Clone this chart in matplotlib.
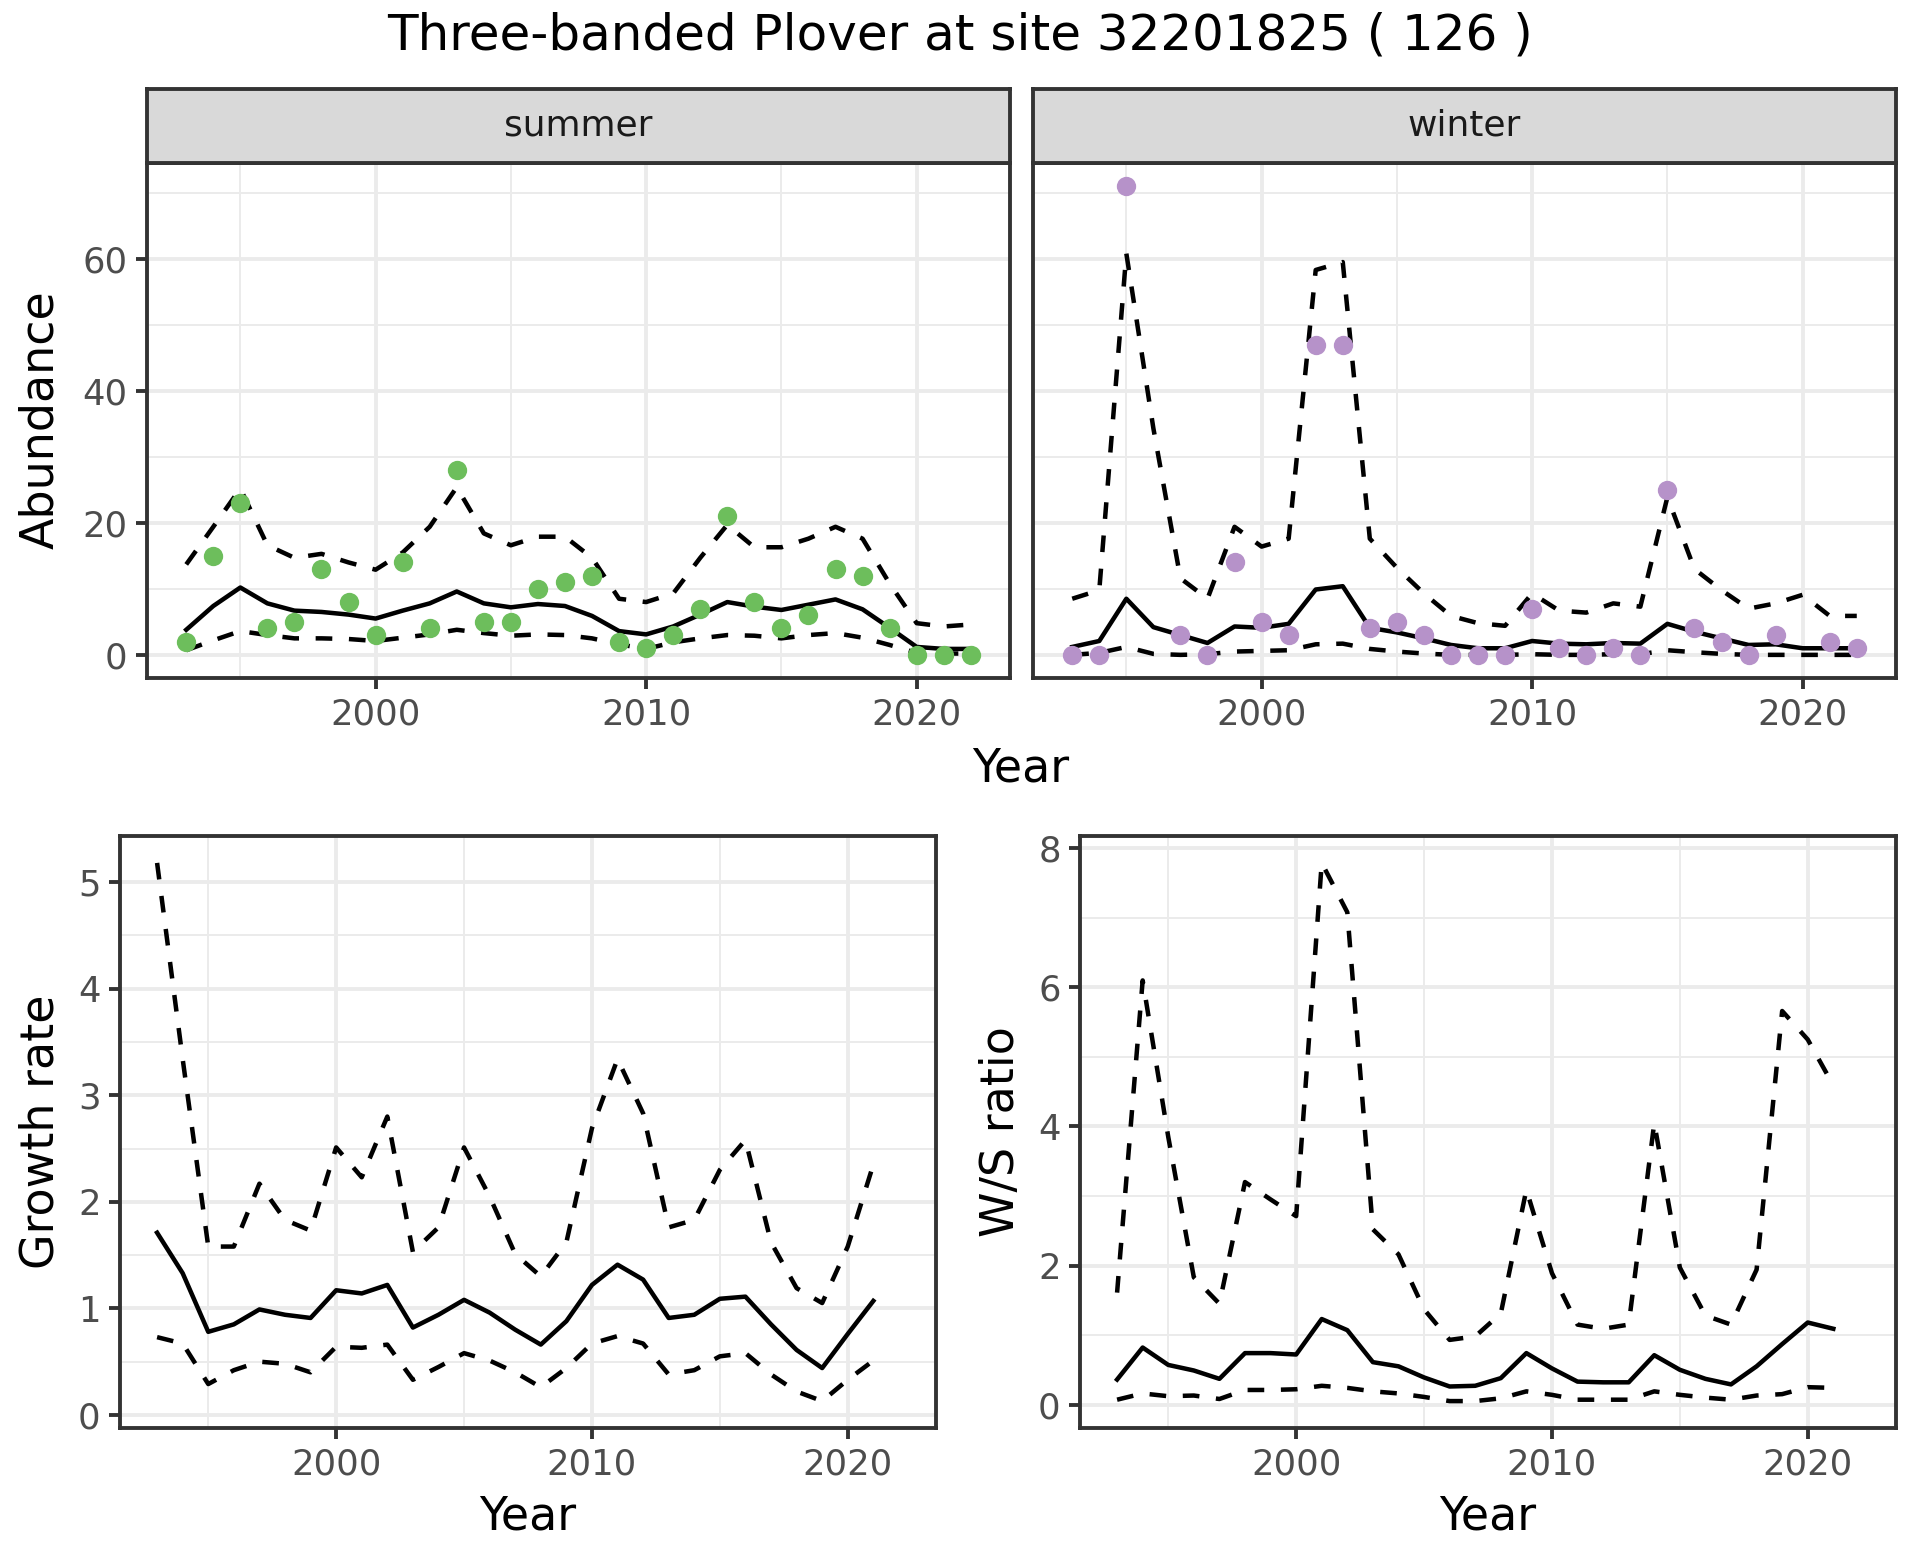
#!/usr/bin/env python3
"""
Three-banded Plover abundance, growth rate and W/S ratio panels.
Writes out.png (1920x1560).
"""

import numpy as np
import matplotlib
matplotlib.use("Agg")
import matplotlib.pyplot as plt
from matplotlib.ticker import MultipleLocator


# -----------------------------
# Data
# -----------------------------
years = list(range(1993, 2023))
years_rate = list(range(1993, 2022))

summer_count = [2, 15, 23, 4, 5, 13, 8, 3, 14, 4, 28, 5, 5, 10, 11, 12, 2, 1, 3, 7,
                21, 8, 4, 6, 13, 12, 4, 0, 0, 0]
summer_mean = [3.8, 7.4, 10.2, 7.8, 6.7, 6.5, 6.1, 5.5, 6.7, 7.8, 9.6, 7.8, 7.2, 7.7,
               7.4, 5.9, 3.6, 3.1, 4.3, 6.1, 8.0, 7.3, 6.8, 7.6, 8.4, 6.9, 4.1, 1.2,
               0.9, 0.9]
summer_hi = [13.7, 19.4, 25.2, 16.6, 14.7, 15.3, 14.0, 12.9, 15.5, 19.4, 25.4, 18.4,
             16.6, 17.9, 17.9, 14.7, 8.5, 8.0, 9.3, 14.7, 19.7, 16.3, 16.3, 17.6, 19.4,
             17.6, 10.8, 4.8, 4.3, 4.6]
summer_lo = [0.7, 2.2, 3.6, 3.0, 2.5, 2.5, 2.4, 2.1, 2.6, 3.1, 3.8, 3.3, 2.9, 3.1, 3.0,
             2.5, 1.6, 0.9, 1.9, 2.5, 3.0, 2.9, 2.5, 3.0, 3.3, 2.6, 1.5, 0.3, 0.2, 0.2]

nan = np.nan
winter_count = [0, 0, 71, nan, 3, 0, 14, 5, 3, 47, 47, 4, 5, 3, 0, 0, 0, 7, 1, 0, 1, 0,
                25, 4, 2, 0, 3, nan, 2, 1]
winter_mean = [1.2, 2.1, 8.5, 4.2, 3.0, 1.8, 4.3, 4.1, 4.7, 9.9, 10.4, 4.1, 3.4, 2.5,
               1.5, 1.0, 1.0, 2.1, 1.7, 1.6, 1.8, 1.7, 4.7, 3.5, 2.5, 1.5, 1.6, 1.0,
               1.0, 1.0]
winter_hi = [8.5, 9.8, 60.8, 34.3, 11.6, 8.5, 19.4, 16.4, 17.6, 58.3, 59.5, 17.6, 13.2,
             9.3, 5.9, 4.8, 4.4, 9.3, 6.7, 6.4, 7.8, 7.3, 23.9, 13.0, 9.8, 7.0, 7.8,
             9.1, 5.9, 5.9]
winter_lo = [0.0, 0.3, 1.2, 0.15, 0.0, 0.1, 0.5, 0.6, 0.7, 1.6, 1.7, 0.9, 0.5, 0.2, 0.0,
             0.0, 0.0, 0.1, 0.0, 0.0, 0.1, 0.1, 0.7, 0.4, 0.15, 0.0, 0.0, 0.0, 0.0, 0.0]

growth_mean = [1.71, 1.33, 0.78, 0.85, 0.99, 0.94, 0.91, 1.17, 1.14, 1.22, 0.82, 0.94,
               1.08, 0.96, 0.80, 0.66, 0.88, 1.22, 1.41, 1.27, 0.91, 0.94, 1.09, 1.11,
               0.85, 0.61, 0.44, 0.76, 1.07]
growth_hi = [5.18, 3.34, 1.58, 1.58, 2.17, 1.83, 1.73, 2.51, 2.23, 2.80, 1.53, 1.76,
             2.51, 2.05, 1.51, 1.30, 1.62, 2.69, 3.34, 2.83, 1.76, 1.83, 2.30, 2.58,
             1.62, 1.19, 1.05, 1.58, 2.35]
growth_lo = [0.73, 0.67, 0.29, 0.42, 0.50, 0.48, 0.40, 0.64, 0.63, 0.66, 0.33, 0.45,
             0.58, 0.51, 0.40, 0.26, 0.44, 0.67, 0.74, 0.67, 0.38, 0.42, 0.55, 0.58,
             0.38, 0.22, 0.13, 0.33, 0.51]

ratio_mean = [0.36, 0.82, 0.57, 0.49, 0.37, 0.74, 0.74, 0.72, 1.23, 1.07, 0.61, 0.55,
              0.39, 0.26, 0.27, 0.38, 0.74, 0.52, 0.33, 0.32, 0.32, 0.71, 0.50, 0.37,
              0.29, 0.55, 0.87, 1.18, 1.09]
ratio_hi = [1.61, 6.10, 3.85, 1.83, 1.45, 3.20, 2.95, 2.71, 7.79, 7.08, 2.52, 2.16,
            1.37, 0.93, 0.98, 1.31, 3.09, 1.89, 1.15, 1.09, 1.15, 4.05, 1.97, 1.28,
            1.15, 1.94, 5.66, 5.25, 4.59]
ratio_lo = [0.07, 0.16, 0.12, 0.13, 0.08, 0.21, 0.21, 0.22, 0.27, 0.24, 0.19, 0.16,
            0.11, 0.05, 0.05, 0.09, 0.19, 0.14, 0.07, 0.07, 0.07, 0.19, 0.14, 0.10,
            0.07, 0.13, 0.15, 0.25, 0.24]

title = "Three-banded Plover at site 32201825 ( 126 )"
seasons = ["summer", "winter"]
season_colors = {"summer": "#6dbe5c", "winter": "#b692c9"}


# -----------------------------
# Look
# -----------------------------
W, H, DPI = 1920, 1560, 240
GRID = "#ebebeb"
DARK = "#333333"
TICKCOL = "#4d4d4d"
LW_GRID = 1.16
LW_LINE = 1.35
DASH = (0, (3.7, 3.7))
TICK_FS = 10.6
STRIP_FS = 10.8
LAB_FS = 13.8
TITLE_FS = 15

plt.rcParams["font.family"] = ["DejaVu Sans"]


def px_axes(fig, left, top, right, bottom):
    return fig.add_axes([left / W, 1 - bottom / H, (right - left) / W, (bottom - top) / H])


def expand(values, f=0.05):
    arr = np.array(values, dtype=float)
    lo, hi = np.nanmin(arr), np.nanmax(arr)
    r = hi - lo
    return lo - f * r, hi + f * r


def style_panel(ax, ymajor, yminor, show_y=True):
    ax.set_facecolor("white")
    ax.xaxis.set_major_locator(MultipleLocator(10))
    ax.xaxis.set_minor_locator(MultipleLocator(5))
    ax.yaxis.set_major_locator(MultipleLocator(ymajor))
    ax.yaxis.set_minor_locator(MultipleLocator(yminor))
    ax.grid(which="major", color=GRID, lw=LW_GRID)
    ax.grid(which="minor", color=GRID, lw=LW_GRID / 2)
    ax.set_axisbelow(True)
    ax.tick_params(which="minor", length=0)
    ax.tick_params(which="major", length=3.3, width=LW_GRID, color=DARK,
                   labelsize=TICK_FS, labelcolor=TICKCOL, pad=2.5)
    if not show_y:
        ax.tick_params(axis="y", which="both", length=0, labelleft=False)
    for sp in ax.spines.values():
        sp.set_color(DARK)
        sp.set_linewidth(LW_GRID)


def draw_band(ax, x, mean, hi, lo):
    ax.plot(x, hi, color="black", lw=LW_LINE, linestyle=DASH)
    ax.plot(x, lo, color="black", lw=LW_LINE, linestyle=DASH)
    ax.plot(x, mean, color="black", lw=LW_LINE)


fig = plt.figure(figsize=(W / DPI, H / DPI), dpi=DPI)

xlim = expand(years)
top_ylim = expand(summer_count + summer_hi + summer_lo + winter_count + winter_hi + winter_lo)

# -----------------------------
# Top: abundance facets
# -----------------------------
top_panels = {
    "summer": (147, 1010, summer_count, summer_mean, summer_hi, summer_lo),
    "winter": (1033, 1896, winter_count, winter_mean, winter_hi, winter_lo),
}
for i, season in enumerate(seasons):
    left, right, cnt, mean, hi, lo = top_panels[season]
    ax = px_axes(fig, left, 162.7, right, 678.3)
    style_panel(ax, 20, 10, show_y=(i == 0))
    draw_band(ax, years, mean, hi, lo)
    ax.plot(years, cnt, "o", color=season_colors[season], markersize=5.8,
            markeredgewidth=0, zorder=3)
    ax.set_xlim(*xlim)
    ax.set_ylim(*top_ylim)

    strip = px_axes(fig, left, 89.3, right, 162.7)
    strip.set_facecolor("#d9d9d9")
    strip.set_xticks([])
    strip.set_yticks([])
    for sp in strip.spines.values():
        sp.set_color(DARK)
        sp.set_linewidth(LW_GRID)
    strip.text(0.5, 0.5, season, ha="center", va="center", fontsize=STRIP_FS,
               color="#1a1a1a", transform=strip.transAxes)

fig.text(41 / W, 1 - 420 / H, "Abundance", rotation=90, ha="center", va="center",
         fontsize=LAB_FS)
fig.text(1021 / W, 1 - 781 / H, "Year", ha="center", va="baseline", fontsize=LAB_FS)

# -----------------------------
# Bottom: growth rate and W/S ratio
# -----------------------------
ax_g = px_axes(fig, 120, 836, 936, 1428)
style_panel(ax_g, 1, 0.5)
draw_band(ax_g, years_rate, growth_mean, growth_hi, growth_lo)
ax_g.set_xlim(*xlim)
ax_g.set_ylim(*expand(growth_hi + growth_lo))
fig.text(41 / W, 1 - 1132 / H, "Growth rate", rotation=90, ha="center", va="center",
         fontsize=LAB_FS)
fig.text(528 / W, 1 - 1529 / H, "Year", ha="center", va="baseline", fontsize=LAB_FS)

ax_r = px_axes(fig, 1080, 836, 1896, 1428)
style_panel(ax_r, 2, 1)
draw_band(ax_r, years_rate, ratio_mean, ratio_hi, ratio_lo)
ax_r.set_xlim(*xlim)
ax_r.set_ylim(*expand(ratio_hi + ratio_lo))
fig.text(1002 / W, 1 - 1132 / H, "W/S ratio", rotation=90, ha="center", va="center",
         fontsize=LAB_FS)
fig.text(1488 / W, 1 - 1529 / H, "Year", ha="center", va="baseline", fontsize=LAB_FS)

fig.text(0.5, 1 - 50 / H, title, ha="center", va="baseline", fontsize=TITLE_FS)

fig.savefig("out.png", dpi=DPI, facecolor="white")
